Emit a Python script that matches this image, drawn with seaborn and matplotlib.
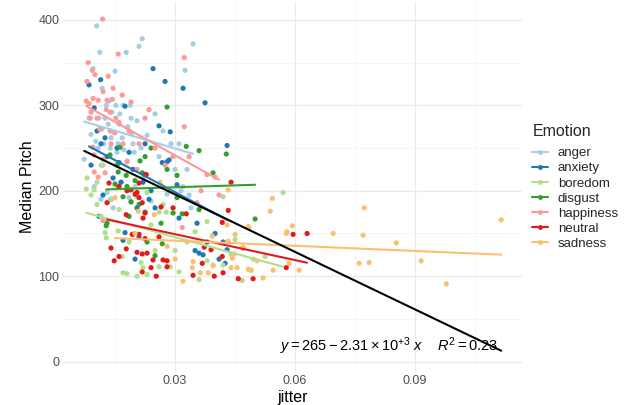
import matplotlib
matplotlib.use("Agg")
import matplotlib.pyplot as plt
import pandas as pd
import seaborn as sns
from matplotlib.lines import Line2D

emotions = ["anger", "anxiety", "boredom", "disgust", "happiness", "neutral", "sadness"]
colors = ["#A6CEE3", "#1F78B4", "#B2DF8A", "#33A02C", "#FB9A99", "#E31A1C", "#FDBF6F"]

anger_x = [0.0073, 0.0085, 0.0095, 0.0098, 0.0104, 0.0108, 0.0112, 0.0115, 0.0118, 0.012,
           0.0125, 0.013, 0.0135, 0.014, 0.0145, 0.015, 0.0155, 0.016, 0.0165, 0.017,
           0.0178, 0.018, 0.0185, 0.019, 0.0195, 0.02, 0.021, 0.0215, 0.0218, 0.022,
           0.023, 0.024, 0.025, 0.026, 0.027, 0.028, 0.029, 0.03, 0.031, 0.0315,
           0.032, 0.0325, 0.033, 0.0335, 0.034, 0.0345,
           0.009, 0.0102, 0.011, 0.0117, 0.0122, 0.0128, 0.0133, 0.0138, 0.0142, 0.0148,
           0.0152, 0.0158, 0.0162, 0.0168, 0.0172, 0.0182, 0.0188, 0.0192, 0.0198, 0.0205]
anger_y = [237, 285, 343, 205, 393, 250, 362, 190, 320, 230,
           285, 198, 305, 262, 180, 340, 245, 278, 210, 300,
           362, 235, 192, 285, 255, 205, 369, 250, 378, 215,
           265, 188, 290, 240, 270, 196, 255, 225, 255, 200,
           205, 341, 225, 195, 180, 372,
           266, 258, 285, 272, 255, 300, 278, 250, 292, 268,
           300, 255, 290, 262, 248, 275, 300, 268, 245, 282]

anxiety_x = [0.0085, 0.0098, 0.0114, 0.0175, 0.0245, 0.0275, 0.032, 0.0375, 0.026, 0.0288,
             0.043, 0.028, 0.0268, 0.0285, 0.016, 0.0305, 0.031, 0.0355, 0.036, 0.037,
             0.042, 0.043, 0.0175, 0.0195, 0.021, 0.017, 0.02, 0.0115, 0.013, 0.0145,
             0.012, 0.0195, 0.022, 0.0235, 0.025, 0.0105, 0.0125, 0.0155, 0.0185, 0.0225,
             0.024, 0.009, 0.014, 0.0165, 0.0205, 0.011,
             0.04, 0.041, 0.038, 0.035, 0.0425]
anxiety_y = [324, 297, 330, 299, 343, 328, 320, 303, 276, 269,
             253, 234, 233, 236, 233, 207, 168, 162, 127, 125,
             140, 131, 151, 149, 146, 142, 120, 255, 240, 215,
             195, 225, 210, 190, 180, 270, 262, 250, 245, 255,
             200, 230, 190, 210, 180, 170,
             150, 120, 140, 130, 115]

boredom_x = [0.0078, 0.0098, 0.0105, 0.008, 0.009, 0.0125, 0.0128, 0.0158, 0.0168, 0.017,
             0.018, 0.0205, 0.0215, 0.023, 0.022, 0.026, 0.0288, 0.031, 0.036, 0.0468,
             0.0495, 0.042, 0.027, 0.0278, 0.026, 0.0205, 0.023, 0.019, 0.038, 0.042,
             0.057, 0.045, 0.049, 0.0525, 0.0395, 0.0115, 0.014, 0.016, 0.024, 0.033,
             0.035, 0.03, 0.0185, 0.025, 0.0155, 0.0115, 0.044, 0.038, 0.0105]
boredom_y = [202, 201, 184, 215, 195, 151, 145, 153, 123, 104,
             103, 100, 116, 102, 110, 111, 111, 105, 96, 95,
             120, 113, 184, 175, 175, 193, 198, 187, 164, 193,
             198, 143, 107, 123, 113, 170, 190, 178, 160, 140,
             152, 130, 140, 130, 205, 230, 126, 118, 210]

disgust_x = [0.028, 0.0328, 0.036, 0.0395, 0.01625, 0.01375, 0.0225, 0.02125, 0.0218, 0.0158,
             0.028, 0.0305, 0.0178, 0.0428, 0.036, 0.0318, 0.0265, 0.05, 0.023, 0.0268,
             0.025, 0.0128, 0.013, 0.017, 0.015, 0.018, 0.019, 0.021, 0.0225, 0.0305,
             0.0295, 0.0155, 0.024, 0.02, 0.0185]
disgust_y = [298, 252, 247, 221, 251, 242, 240, 235, 221, 222,
             225, 218, 218, 243, 178, 173, 162, 167, 140, 138,
             124, 159, 162, 193, 208, 205, 187, 184, 175, 192,
             174, 230, 250, 212, 170]

happiness_x = [0.0119, 0.0158, 0.0083, 0.0093, 0.01, 0.008, 0.0078, 0.0095, 0.012, 0.0108,
               0.013, 0.0143, 0.0145, 0.0168, 0.01375, 0.0133, 0.0323, 0.0323, 0.0335, 0.0235,
               0.0225, 0.019, 0.0295, 0.038, 0.04, 0.0095, 0.00975, 0.012, 0.0125, 0.0098,
               0.0108, 0.012, 0.0318, 0.0355, 0.018, 0.021, 0.016, 0.025, 0.0275, 0.015,
               0.0088, 0.0105, 0.0205, 0.014,
               0.0085, 0.009, 0.0112, 0.0128, 0.0138, 0.0152, 0.017, 0.0185, 0.041, 0.0365]
happiness_y = [401, 360, 350, 341, 336, 328, 305, 308, 316, 306,
               306, 307, 320, 312, 292, 334, 356, 275, 240, 295,
               285, 304, 240, 219, 216, 251, 242, 237, 221, 222,
               216, 165, 157, 186, 234, 255, 280, 250, 230, 268,
               285, 285, 225, 255,
               302, 292, 272, 295, 270, 285, 255, 270, 195, 200]

neutral_x = [0.0225, 0.021, 0.0135, 0.019, 0.02, 0.018, 0.016, 0.0205, 0.021, 0.0218,
             0.0228, 0.013, 0.0178, 0.022, 0.0225, 0.0265, 0.0295, 0.0328, 0.0193, 0.021,
             0.026, 0.014, 0.0178, 0.0225, 0.0205, 0.0218, 0.023, 0.016, 0.0148, 0.0245,
             0.027, 0.028, 0.028, 0.024, 0.0218, 0.0253, 0.0345, 0.0368, 0.0373, 0.0398,
             0.042, 0.0418, 0.0433, 0.044, 0.0458, 0.0495, 0.047, 0.039, 0.063, 0.0595,
             0.0578, 0.0418]
neutral_y = [219, 209, 209, 201, 196, 200, 205, 198, 192, 186,
             219, 186, 172, 168, 174, 181, 180, 173, 149, 149,
             146, 133, 132, 144, 128, 126, 127, 123, 118, 119,
             119, 118, 111, 110, 105, 100, 101, 115, 134, 100,
             104, 123, 177, 210, 97, 97, 133, 131, 150, 149,
             110, 163]

sadness_x = [0.015, 0.0208, 0.0248, 0.0263, 0.0433, 0.0485, 0.045, 0.0433, 0.0448, 0.0443,
             0.044, 0.0455, 0.0483, 0.049, 0.0345, 0.0343, 0.0363, 0.0383, 0.032, 0.0543,
             0.0538, 0.0483, 0.0593, 0.058, 0.0578, 0.0695, 0.0773, 0.077, 0.0853, 0.1115,
             0.0915, 0.0978, 0.076, 0.0785, 0.0545, 0.061, 0.0585, 0.047, 0.043, 0.0393,
             0.02, 0.028, 0.03, 0.0395, 0.052, 0.0505]
sadness_y = [192, 176, 172, 210, 201, 157, 149, 141, 126, 121,
             110, 110, 108, 107, 117, 110, 104, 104, 94, 191,
             176, 158, 159, 152, 150, 150, 180, 148, 139, 166,
             118, 91, 115, 116, 107, 107, 115, 134, 160, 147,
             150, 135, 120, 112, 98, 118]

xs = [anger_x, anxiety_x, boredom_x, disgust_x, happiness_x, neutral_x, sadness_x]
ys = [anger_y, anxiety_y, boredom_y, disgust_y, happiness_y, neutral_y, sadness_y]
frames = [pd.DataFrame({"jitter": x, "pitch": y, "emotion": e}) for x, y, e in zip(xs, ys, emotions)]
df = pd.concat(frames, ignore_index=True)

equation = r"$\mathit{y} = 265 - 2.31 \times 10^{+3}\ \mathit{x}\quad\ \mathit{R}^{2} = 0.23$"

sns.set_theme(style="white")
plt.rcParams["font.family"] = ["Liberation Sans", "DejaVu Sans"]
plt.rcParams["mathtext.fontset"] = "custom"
plt.rcParams["mathtext.rm"] = "Liberation Sans"
plt.rcParams["mathtext.it"] = "Liberation Sans:italic"
plt.rcParams["mathtext.bf"] = "Liberation Sans:bold"

fig = plt.figure(figsize=(6.35, 4.05), dpi=100)
ax = fig.add_axes([63.4 / 635, 1 - 371 / 405, (522 - 63.4) / 635, (371 - 2) / 405])

sns.scatterplot(data=df, x="jitter", y="pitch", hue="emotion", hue_order=emotions,
                palette=colors, s=14, linewidth=0, ax=ax, legend=False, zorder=2)
for e, c in zip(emotions, colors):
    sub = df[df["emotion"] == e]
    sns.regplot(data=sub, x="jitter", y="pitch", scatter=False, ci=None, color=c,
                line_kws=dict(lw=1.5, zorder=3), ax=ax)
sns.regplot(data=df, x="jitter", y="pitch", scatter=False, ci=None, color="black",
            line_kws=dict(lw=1.5, zorder=4), ax=ax)

ax.set_xlim(0.0021, 0.1167)
ax.set_ylim(-11, 421)
ax.set_xticks([0.03, 0.06, 0.09])
ax.set_xticklabels(["0.03", "0.06", "0.09"])
ax.set_yticks([0, 100, 200, 300, 400])
ax.set_xticks([0.015, 0.045, 0.075, 0.105], minor=True)
ax.set_yticks([50, 150, 250, 350], minor=True)
ax.grid(True, which="major", color="#EBEBEB", lw=0.9, zorder=0)
ax.grid(True, which="minor", color="#F2F2F2", lw=0.5, zorder=0)
ax.set_axisbelow(True)
for s in ax.spines.values():
    s.set_visible(False)
ax.tick_params(which="both", length=0, labelsize=9, colors="#4D4D4D", pad=3)
ax.set_xlabel("jitter", fontsize=11.5, color="black", labelpad=2)
ax.set_ylabel("Median Pitch", fontsize=11.5, color="black", labelpad=2)

ax.text(0.1108, 18, equation, ha="right", va="center", fontsize=10.5, color="black", zorder=5)

fig.text(533 / 635, 1 - 132 / 405, "Emotion", ha="left", va="center", fontsize=11.5)
handles = [Line2D([0], [0], color=c, lw=1.5, marker="o", markersize=3.5, markeredgewidth=0)
           for c in colors]
leg = fig.legend(handles, emotions, loc="upper left",
                 bbox_to_anchor=(532 / 635, 1 - 147 / 405), frameon=False, fontsize=9.5,
                 handlelength=1.2, handletextpad=0.75, borderpad=0,
                 labelspacing=0.22, borderaxespad=0)

fig.savefig("out.png", dpi=100)
